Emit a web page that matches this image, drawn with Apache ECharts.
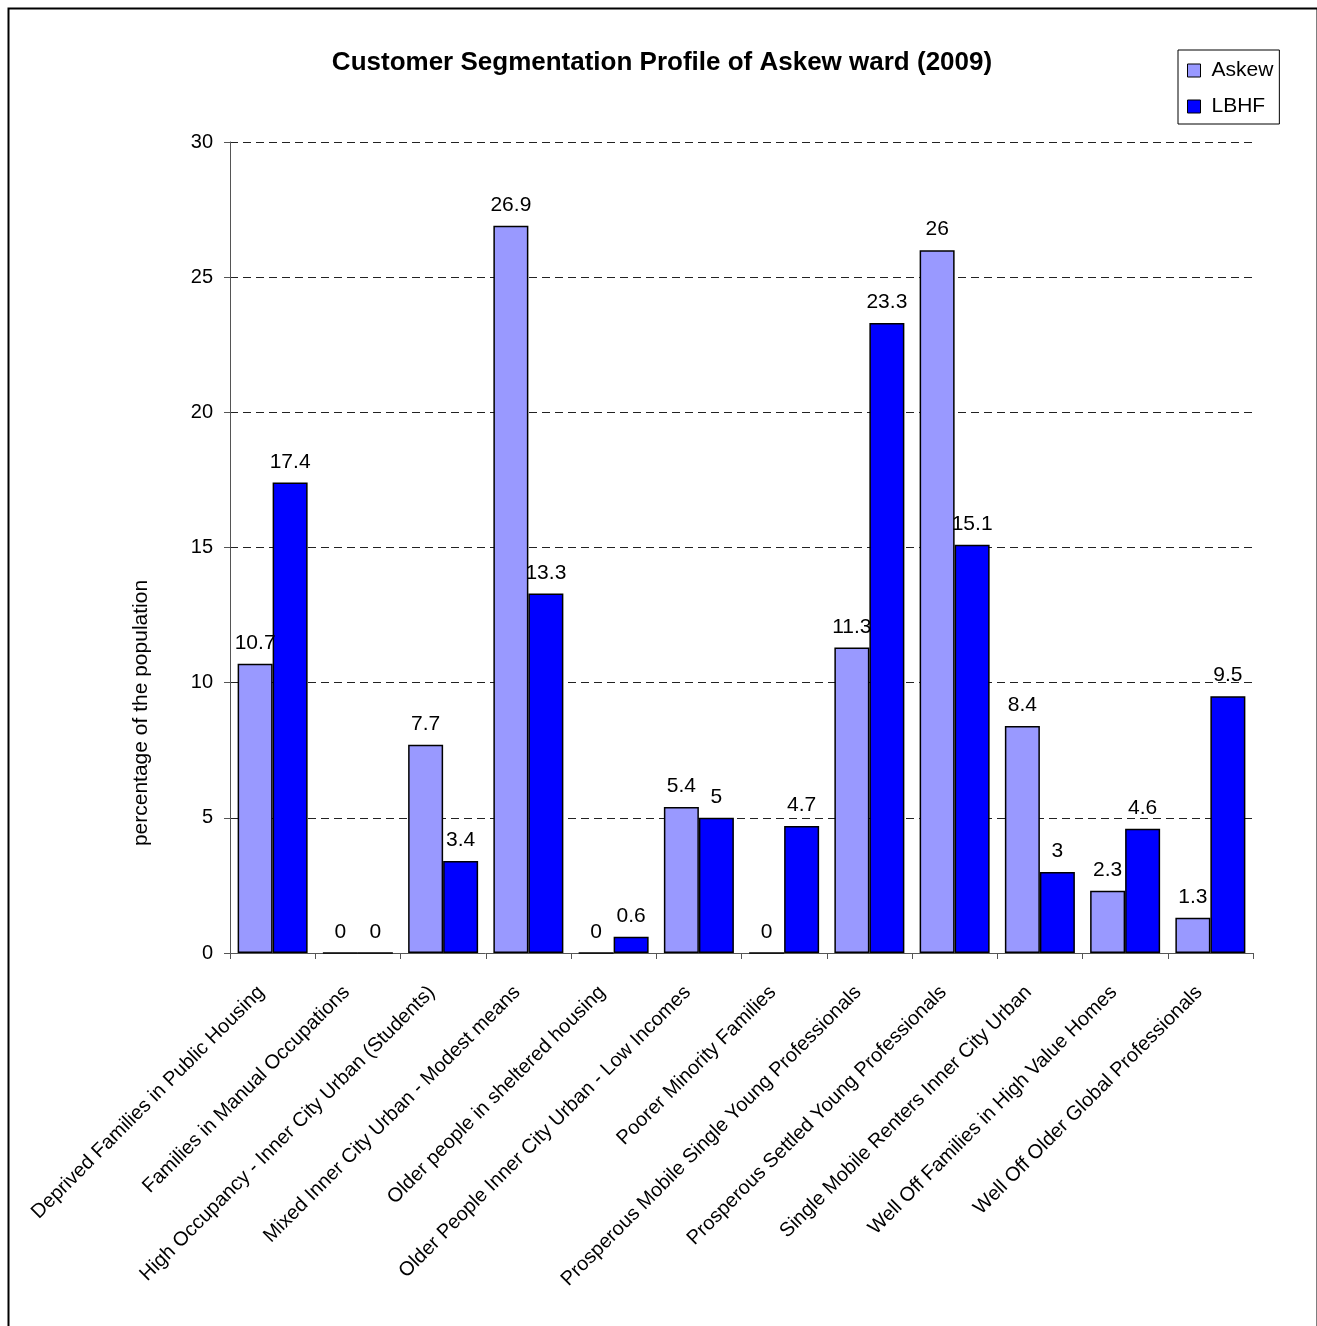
<!DOCTYPE html>
<html>
<head>
<meta charset="utf-8">
<script src="https://cdn.jsdelivr.net/npm/echarts@6/dist/echarts.min.js"></script>
<style>
html,body{margin:0;padding:0;background:#fff;}
#c{width:1317px;height:1326px;}
</style>
</head>
<body>
<div id="c"></div>
<script>
const categories = [
  "Deprived Families in Public Housing",
  "Families in Manual Occupations",
  "High Occupancy - Inner City Urban (Students)",
  "Mixed Inner City Urban - Modest means",
  "Older people in sheltered housing",
  "Older People Inner City Urban - Low Incomes",
  "Poorer Minority Families",
  "Prosperous Mobile Single Young Professionals",
  "Prosperous Settled Young Professionals",
  "Single Mobile Renters Inner City Urban",
  "Well Off Families in High Value Homes",
  "Well Off Older Global Professionals"
];
const askew = [10.7, 0, 7.7, 26.9, 0, 5.4, 0, 11.3, 26, 8.4, 2.3, 1.3];
const lbhf = [17.4, 0, 3.4, 13.3, 0.6, 5, 4.7, 23.3, 15.1, 3, 4.6, 9.5];
const yTicks = [0, 5, 10, 15, 20, 25, 30];

const FONT = 'Liberation Sans, Arial, sans-serif';
const chart = echarts.init(document.getElementById('c'), null, {renderer: 'canvas'});
const labelCfg = {show: true, position: 'top', distance: 10, color: '#000', fontFamily: FONT, fontSize: 21};
chart.setOption({
  animation: false,
  backgroundColor: '#fff',
  textStyle: {fontFamily: FONT},
  title: {
    text: 'Customer Segmentation Profile of Askew ward (2009)',
    left: 657, top: 45, textAlign: 'center',
    textStyle: {fontFamily: FONT, fontSize: 26, fontWeight: 'bold', color: '#000'}
  },
  legend: {
    left: 1178, top: 50, orient: 'vertical',
    padding: [10, 6, 7, 9], itemGap: 15,
    itemWidth: 13, itemHeight: 13,
    borderColor: '#000', borderWidth: 1,
    icon: 'rect',
    itemStyle: {borderColor: '#000', borderWidth: 1},
    textStyle: {fontFamily: FONT, fontSize: 21, color: '#000', padding: [0, 0, 0, 6], lineHeight: 20},
    data: ['Askew', 'LBHF']
  },
  grid: {left: 230, right: 64, top: 142, bottom: 373},
  xAxis: {
    type: 'category',
    data: categories,
    axisLine: {lineStyle: {color: '#555', width: 1}},
    axisTick: {show: true, length: 6, lineStyle: {color: '#555'}},
    axisLabel: {rotate: 45, interval: 0, margin: 25, padding: [0, 16, 0, 0],
      color: '#000', fontFamily: FONT, fontSize: 20}
  },
  yAxis: {
    type: 'value', min: 0, max: 30, interval: 5,
    axisLine: {show: true, lineStyle: {color: '#555', width: 1}},
    axisTick: {show: true, length: 6, lineStyle: {color: '#555'}},
    axisLabel: {margin: 17, color: '#000', fontFamily: FONT, fontSize: 20,
      formatter: v => yTicks.includes(v) ? String(v) : ''},
    splitLine: {show: true, lineStyle: {color: '#222', width: 1, type: [8, 5]}}
  },
  graphic: [
    {type: 'rect', left: 6, top: 6, shape: {x: 0, y: 0, width: 1309, height: 1340},
     style: {fill: 'none', stroke: '#000', lineWidth: 2}, silent: true},
    {type: 'text', x: 141, y: 713, rotation: Math.PI / 2,
     style: {text: 'percentage of the population', fill: '#000', font: '21px ' + FONT,
       textAlign: 'center', textVerticalAlign: 'middle'}}
  ],
  series: [
    {name: 'Askew', type: 'bar', data: askew, barWidth: 35, barGap: '0%',
     itemStyle: {color: '#9999FF', borderColor: '#000', borderWidth: 1.5},
     label: labelCfg},
    {name: 'LBHF', type: 'bar', data: lbhf, barWidth: 35, barGap: '0%',
     itemStyle: {color: '#0000FF', borderColor: '#000', borderWidth: 1.5},
     label: labelCfg}
  ]
});
</script>
</body>
</html>
